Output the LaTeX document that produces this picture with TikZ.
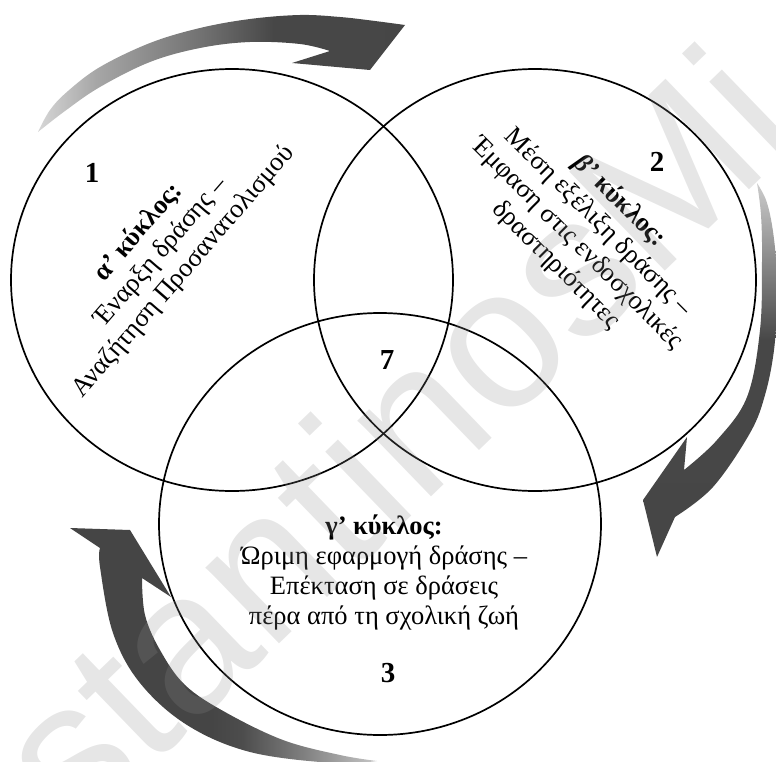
\documentclass[tikz,border=0pt]{standalone}
\usepackage{fontspec}
\setmainfont{Liberation Serif}
\newfontfamily\markfont{Liberation Sans}
\usetikzlibrary{shapes.geometric}

% gradients for the three curved arrows (light tail -> dark head)
\pgfdeclarehorizontalshading{fadeA}{100bp}{rgb(0bp)=(0.84,0.84,0.84); rgb(25bp)=(0.84,0.84,0.84); rgb(33bp)=(0.65,0.65,0.65); rgb(47bp)=(0.45,0.45,0.45); rgb(57bp)=(0.28,0.28,0.28); rgb(100bp)=(0.27,0.27,0.27)}
\pgfdeclarehorizontalshading{fadeB}{100bp}{rgb(0bp)=(0.8,0.8,0.8); rgb(25bp)=(0.8,0.8,0.8); rgb(35bp)=(0.55,0.55,0.55); rgb(46bp)=(0.28,0.28,0.28); rgb(100bp)=(0.27,0.27,0.27)}
\pgfdeclarehorizontalshading{fadeC}{100bp}{rgb(0bp)=(0.78,0.78,0.78); rgb(25bp)=(0.78,0.78,0.78); rgb(37bp)=(0.5,0.5,0.5); rgb(47bp)=(0.3,0.3,0.3); rgb(52bp)=(0.27,0.27,0.27); rgb(100bp)=(0.27,0.27,0.27)}

\tikzset{
  ring/.style={draw=black, line width=1.7bp, ellipse, minimum width=442bp, minimum height=422bp, inner sep=0pt},
  body/.style={align=center, font=\fontsize{26.5bp}{30bp}\selectfont, inner sep=0pt},
  num/.style={font=\fontsize{29bp}{30bp}\selectfont\bfseries, inner sep=0pt},
  watermark/.style={text=black!45, opacity=0.22, font=\fontsize{200bp}{200bp}\markfont, inner sep=0pt}
}

\begin{document}
\begin{tikzpicture}[x=1bp, y=-1bp]
\useasboundingbox (0,0) rectangle (776,762);
\clip (0,0) rectangle (776,762);

% curved arrow over the top: from the first circle to the second
\shade[shading=fadeA, shading angle=0]
  plot[smooth, tension=0.6] coordinates {(38,132) (50,110) (68,91) (100,67) (150,43) (200,28) (250,19) (300,15) (340,17) (375,21) (405,25)}
  -- (370,70) -- (292,63) -- (330,51)
  -- plot[smooth, tension=0.6] coordinates {(330,51) (300,44) (250,42) (200,48) (150,62) (100,87) (65,111) (38,132)}
  -- cycle;

% curved arrow down the right side: from the second circle to the third
\shade[shading=fadeB, shading angle=-90]
  plot[smooth, tension=0.6] coordinates {(757,183) (766,200) (772,225) (776,260) (777,300) (774,350) (765,395) (750,433) (713,487) (675,517)}
  -- (657,557) -- (643,500) -- (687,437) -- (684,470)
  -- plot[smooth, tension=0.6] coordinates {(684,470) (717,440) (747,397) (760,330) (762,260) (761,215) (757,183)}
  -- cycle;

% curved arrow at the lower left: from the third circle back to the first
\shade[shading=fadeC, shading angle=180]
  plot[smooth, tension=0.6] coordinates {(377,761) (333,763) (250,752) (187,725) (140,683) (113,633) (100,567) (100,548)}
  -- (70,528) -- (130,530) -- (171,597) -- (142,578)
  -- plot[smooth, tension=0.6] coordinates {(142,578) (145,615) (160,650) (185,685) (225,712) (283,740) (340,755) (377,761)}
  -- cycle;

% the three overlapping circles
\node[ring] (c1) at (232,280) {};
\node[ring] (c2) at (535,280) {};
\node[ring] (c3) at (380,524) {};

% circle numbers and the common centre
\node[num] (n1) at (92,173) {1};
\node[num] (n2) at (657,162) {2};
\node[num] (n7) at (387,360) {7};
\node[num] (n3) at (388,673) {3};

% descriptions of the three cycles
\node[body, rotate=49] (ta) at (161,252)
  {\textbf{α’ κύκλος:}\\ Έναρξη δράσης –\\ Αναζήτηση Προσανατολισμού};
\node[body, rotate=-45] (tb) at (588,233)
  {\textbf{\textit{β’} κύκλος:}\\ Μέση εξέλιξη δράσης –\\ Έμφαση στις ενδοσχολικές\\ δραστηριότητες};
\node[body] (tc) at (384,572)
  {\textbf{γ’ κύκλος:}\\ Ώριμη εφαρμογή δράσης –\\ Επέκταση σε δράσεις\\ πέρα από τη σχολική ζωή};

% faint diagonal watermark
\node[watermark, rotate=44] (wm) at (392,436) {stantinosMi};
\end{tikzpicture}
\end{document}
